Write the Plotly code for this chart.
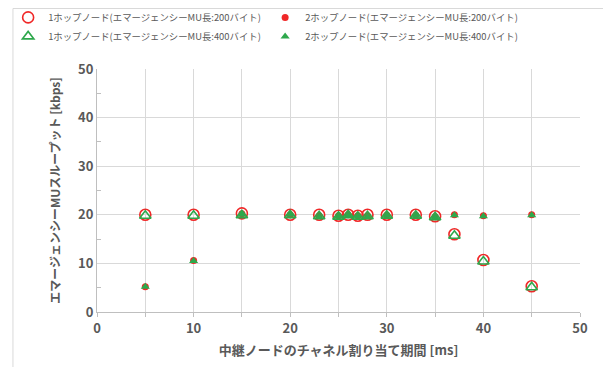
import plotly.graph_objects as go

x_vals = [5, 10, 15, 20, 23, 25, 26, 27, 28, 30, 33, 35, 37, 40, 45]
hop1_200 = [20.0, 20.0, 20.3, 20.0, 20.0, 19.8, 20.0, 19.8, 20.0, 20.0, 20.0, 19.7, 16.0, 10.7, 5.3]
hop2_200 = [5.2, 10.6, 20.2, 20.0, 19.8, 19.8, 20.0, 19.8, 19.8, 19.9, 19.9, 19.6, 20.0, 19.8, 20.0]
hop1_400 = [19.8, 19.8, 19.9, 19.9, 19.7, 19.6, 19.9, 19.6, 19.7, 19.8, 19.8, 19.5, 15.7, 10.4, 5.1]
hop2_400 = [5.2, 10.5, 20.0, 20.0, 19.6, 19.6, 19.9, 19.6, 19.6, 19.8, 19.8, 19.5, 19.9, 19.7, 19.9]

names = [
    "1ホップノード(エマージェンシーMU長:200バイト)",
    "2ホップノード(エマージェンシーMU長:200バイト)",
    "1ホップノード(エマージェンシーMU長:400バイト)",
    "2ホップノード(エマージェンシーMU長:400バイト)",
]

RED = "#f02828"
GREEN = "#2ea84c"
FONT = "Noto Sans CJK JP"
GRAY = "#595959"

fig = go.Figure()
fig.add_trace(go.Scatter(x=x_vals, y=hop1_200, mode="markers", name=names[0],
                         marker=dict(symbol="circle-open", size=11, color=RED, line=dict(width=1.6, color=RED))))
fig.add_trace(go.Scatter(x=x_vals, y=hop2_200, mode="markers", name=names[1],
                         marker=dict(symbol="circle", size=7, color=RED)))
fig.add_trace(go.Scatter(x=x_vals, y=hop1_400, mode="markers", name=names[2],
                         marker=dict(symbol="triangle-up-open", size=10, color=GREEN, line=dict(width=1.6, color=GREEN))))
fig.add_trace(go.Scatter(x=x_vals, y=hop2_400, mode="markers", name=names[3],
                         marker=dict(symbol="triangle-up", size=8, color=GREEN)))

fig.update_layout(
    width=603, height=359,
    margin=dict(l=89, r=31, t=61, b=55, autoexpand=False),
    paper_bgcolor="white", plot_bgcolor="white",
    font=dict(family=FONT, color=GRAY),
    legend=dict(orientation="h", xref="paper", yref="paper",
                x=-0.184, y=1.272, xanchor="left", yanchor="top",
                entrywidth=212, entrywidthmode="pixels", itemwidth=30,
                bgcolor="rgba(0,0,0,0)",
                font=dict(size=9.4, color=GRAY), tracegroupgap=0),
    xaxis=dict(range=[0, 50], dtick=10, tick0=0, showgrid=True, gridcolor="#d9d9d9",
               showline=True, linecolor="#bfbfbf", linewidth=1,
               ticks="outside", ticklen=4, tickcolor="#bfbfbf",
               minor=dict(dtick=5, showgrid=True, gridcolor="#d9d9d9", ticks="outside", ticklen=4, tickcolor="#bfbfbf"),
               tickfont=dict(size=13, family=FONT, color=GRAY, weight="bold"),
               title=dict(text="<b>中継ノードのチャネル割り当て期間 [ms]</b>", font=dict(size=13, color=GRAY), standoff=10),
               zeroline=False),
    yaxis=dict(range=[0, 50], dtick=10, tick0=0, showgrid=True, gridcolor="#d9d9d9",
               showline=True, linecolor="#bfbfbf", linewidth=1,
               ticks="", minor=dict(dtick=5, ticks="inside", ticklen=4, tickcolor="#bfbfbf", showgrid=False),
               tickfont=dict(size=13, family=FONT, color=GRAY, weight="bold"),
               title=dict(text="<b>エマージェンシーMUスループット [kbps]</b>", font=dict(size=12, color=GRAY), standoff=14),
               zeroline=False),
    shapes=[dict(type="rect", xref="paper", yref="paper", x0=-0.174, x1=1.056, y0=-0.4, y1=1.249,
                 line=dict(color="#d9d9d9", width=1), fillcolor="rgba(0,0,0,0)", layer="below")],
)

fig.write_html("out.html")
